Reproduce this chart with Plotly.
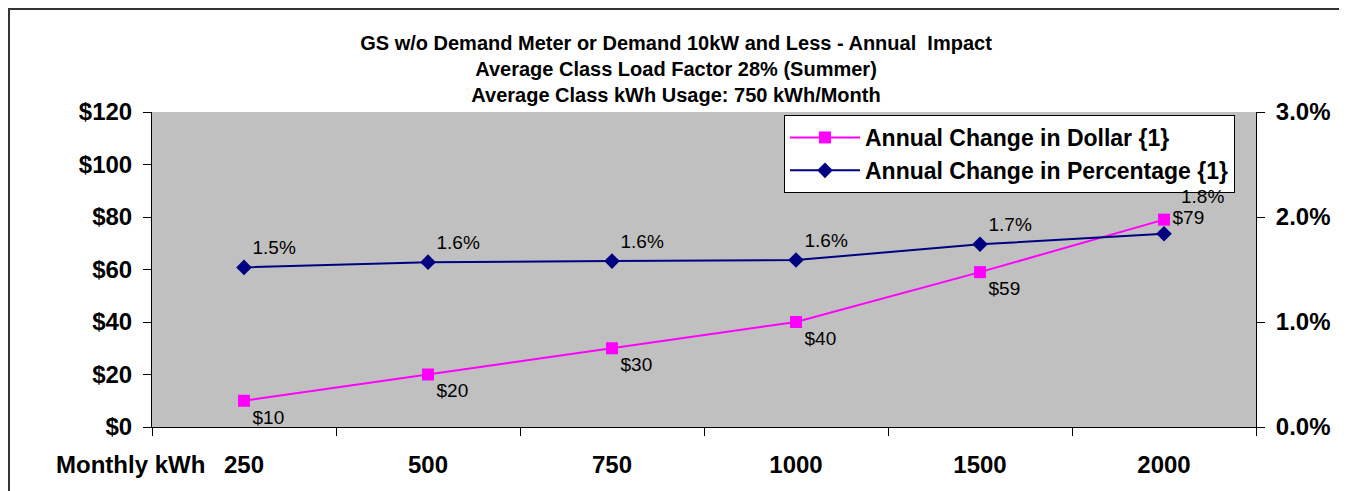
import plotly.graph_objects as go

# datos
kwh_mensual = ["250", "500", "750", "1000", "1500", "2000"]
cambio_dolar = [10, 20, 30, 40, 59, 79]
cambio_pct = [1.52, 1.57, 1.58, 1.59, 1.74, 1.84]

titulo = [
    "GS w/o Demand Meter or Demand 10kW and Less - Annual  Impact",
    "Average Class Load Factor 28% (Summer)",
    "Average Class kWh Usage: 750 kWh/Month",
]

ROSA = "#FF00FF"
MARINO = "#000080"
FUENTE = "Liberation Sans, Arial, sans-serif"

# la página añade 8px de margen al cuerpo: se compensa aquí
ANCHO, ALTO = 1339, 483
PL, PR, PT, PB = 144, 91, 104, 64
ANCHO_PLOT = ANCHO - PL - PR
ALTO_PLOT = ALTO - PT - PB

fig = go.Figure()

fig.add_trace(go.Scatter(
    x=kwh_mensual,
    y=cambio_dolar,
    name="Annual Change in Dollar {1}",
    mode="lines+markers+text",
    line=dict(color=ROSA, width=2),
    marker=dict(symbol="square", size=12, color=ROSA),
    texttemplate="$%{y:.0f}",
    textposition=["bottom right"] * 5 + ["middle right"],
    textfont=dict(family=FUENTE, size=19, color="#000000"),
))

etiquetas_pct = [f"{v:.1f}%" for v in cambio_pct[:-1]] + [""]

fig.add_trace(go.Scatter(
    x=kwh_mensual,
    y=cambio_pct,
    name="Annual Change in Percentage {1}",
    yaxis="y2",
    mode="lines+markers+text",
    line=dict(color=MARINO, width=2),
    marker=dict(symbol="diamond", size=12, color=MARINO),
    text=etiquetas_pct,
    textposition="top right",
    textfont=dict(family=FUENTE, size=19, color="#000000"),
))

# la última etiqueta de porcentaje va más arriba, sobre "$79"
fig.add_annotation(
    x=len(kwh_mensual) - 1, y=cambio_pct[-1],
    xref="x", yref="y2",
    text=f"{cambio_pct[-1]:.1f}%",
    showarrow=False,
    xshift=38, yshift=37,
    font=dict(family=FUENTE, size=19, color="#000000"),
)

eje_fuente = dict(family=FUENTE, size=24, color="#000000", weight="bold")

fig.update_layout(
    width=ANCHO,
    height=ALTO,
    paper_bgcolor="#FFFFFF",
    plot_bgcolor="#C0C0C0",
    margin=dict(l=PL, r=PR, t=PT, b=PB, autoexpand=False),
    showlegend=True,
    font=dict(family=FUENTE, color="#000000"),
    title=dict(
        text="<br>".join(titulo),
        x=668 / ANCHO,
        xanchor="center",
        y=1 - 42 / ALTO,
        yanchor="top",
        font=dict(family=FUENTE, size=20, weight="bold", color="#000000"),
    ),
    xaxis=dict(
        type="category",
        range=[-0.5, len(kwh_mensual) - 0.5],
        showgrid=False,
        showline=True,
        linecolor="#000000",
        linewidth=1,
        ticks="outside",
        tickson="boundaries",
        ticklen=8,
        tickcolor="#000000",
        tickfont=eje_fuente,
        ticklabelstandoff=16,
        zeroline=False,
    ),
    yaxis=dict(
        range=[0, 120],
        dtick=20,
        tickprefix="$",
        showgrid=False,
        showline=True,
        linecolor="#000000",
        ticks="outside",
        ticklen=8,
        tickcolor="#000000",
        tickfont=eje_fuente,
        ticklabelstandoff=6,
        zeroline=False,
    ),
    yaxis2=dict(
        range=[0, 3],
        dtick=1,
        tickformat=".1f",
        ticksuffix="%",
        overlaying="y",
        side="right",
        showgrid=False,
        showline=True,
        linecolor="#000000",
        ticks="outside",
        ticklen=8,
        tickcolor="#000000",
        tickfont=eje_fuente,
        ticklabelstandoff=6,
        zeroline=False,
    ),
    legend=dict(
        x=(1235 - 152) / ANCHO_PLOT,
        xanchor="right",
        y=1 - 3 / ALTO_PLOT,
        yanchor="top",
        bgcolor="#FFFFFF",
        bordercolor="#000000",
        borderwidth=1,
        font=dict(family=FUENTE, size=23, weight="bold", color="#000000"),
        tracegroupgap=0,
        itemwidth=70,
    ),
)

fig.add_annotation(
    text="Monthly kWh",
    xref="paper", yref="paper",
    x=(207 - 152) / ANCHO_PLOT, xanchor="right",
    y=-37 / ALTO_PLOT, yanchor="middle",
    showarrow=False,
    font=dict(family=FUENTE, size=24, weight="bold", color="#000000"),
)

# marco exterior del área del gráfico (a 1px del borde de la figura)
fig.add_shape(
    type="rect",
    xref="paper", yref="paper",
    x0=(1 - PL) / ANCHO_PLOT, x1=1.2,
    y0=-0.4, y1=1 + (PT - 1) / ALTO_PLOT,
    line=dict(color="#333333", width=2),
    fillcolor="rgba(0,0,0,0)",
    layer="below",
)

fig.write_html("out.html")
